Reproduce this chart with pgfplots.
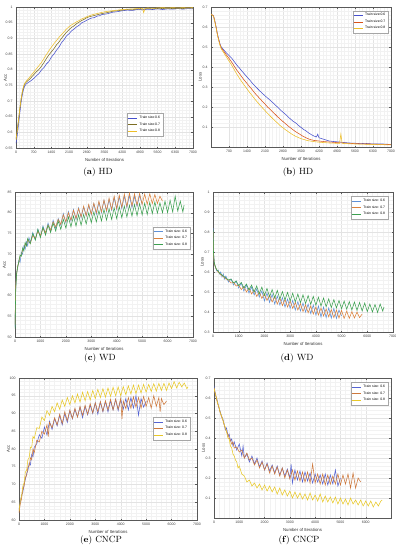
\documentclass[border=0pt]{standalone}
\usepackage{fontspec}
\usepackage{pgfplots}
\pgfplotsset{compat=1.18}
\newfontfamily\lsans{Liberation Sans}
\definecolor{hdblue}{RGB}{70,80,205}
\definecolor{hdolive}{RGB}{125,110,35}
\definecolor{hdyellow}{RGB}{237,190,40}
\definecolor{hdred}{RGB}{217,83,25}
\definecolor{wdblue}{RGB}{95,145,215}
\definecolor{wdorange}{RGB}{220,130,60}
\definecolor{wdgreen}{RGB}{60,160,80}
\definecolor{cnblue}{RGB}{85,100,210}
\definecolor{cnorange}{RGB}{205,120,60}
\definecolor{cnyellow}{RGB}{232,200,40}
\pgfplotsset{
  base/.style={
    scale only axis,
    grid=both,
    major grid style={draw=gray!22, line width=0.25pt},
    minor grid style={draw=gray!10, line width=0.2pt},
    minor tick num=4,
    tick align=inside,
    major tick length=1.5pt, minor tick length=0pt,
    tick style={gray!70!black, line width=0.25pt},
    axis line style={gray!70!black, line width=0.3pt},
    ticklabel style={font=\lsans\fontsize{3.5}{4}\selectfont, text=black!75},
    label style={font=\lsans\fontsize{4.3}{5}\selectfont, text=black!80},
    /pgf/number format/assume math mode=true,
    /pgf/number format/1000 sep={},
    scaled ticks=false,
    xlabel={Number of Iterations},
    xlabel style={yshift=2.5pt},
    ylabel style={at={(axis description cs:-0.06,0.5)}, anchor=center, font=\lsans\fontsize{4.3}{5}\selectfont, text=black!80},
    legend style={font=\lsans\fontsize{3.4}{4}\selectfont, draw=gray!70, line width=0.3pt, inner sep=0.8pt, row sep=-1.5pt, fill=white},
    legend cell align=left,
    legend image code/.code={\draw[#1, line width=0.6pt] (0pt,0pt) -- (9pt,0pt);},
    every axis plot/.append style={line width=0.55pt, mark=none},
  }
}
\begin{document}
\begin{tikzpicture}
\useasboundingbox (0,0) rectangle (396pt,-550pt);
% ---------------- (a) HD Acc
\begin{axis}[base, at={(16pt,-7pt)}, anchor=north west, width=177pt, height=141pt,
  xmin=0, xmax=7000, ymin=0.55, ymax=1,
  xtick={0,700,1400,2100,2800,3500,4200,4900,5600,6300,7000},
  ytick={0.55,0.6,0.65,0.7,0.75,0.8,0.85,0.9,0.95,1},
  ylabel={Acc},
  legend style={at={(0.83,0.085)}, anchor=south east}]
\addplot[hdblue] coordinates {(0,0.565) (50,0.59) (100,0.625) (150,0.66) (200,0.695) (250,0.72) (300,0.738) (350,0.748) (400,0.754) (500,0.76) (600,0.765) (700,0.772) (800,0.78) (900,0.787) (1000,0.798) (1100,0.806) (1200,0.818) (1300,0.826) (1400,0.84) (1500,0.85) (1600,0.862) (1700,0.872) (1800,0.886) (1900,0.896) (2000,0.908) (2100,0.915) (2200,0.924) (2300,0.93) (2400,0.937) (2500,0.942) (2600,0.95) (2700,0.953) (2800,0.958) (2900,0.962) (3000,0.965) (3100,0.966) (3200,0.971) (3300,0.972) (3400,0.976) (3600,0.978) (3800,0.983) (4000,0.985) (4200,0.988) (4400,0.99) (4600,0.989) (4800,0.992) (5000,0.991) (5200,0.993) (5400,0.992) (5600,0.994) (5800,0.992) (6000,0.994) (6200,0.993) (6400,0.995) (6600,0.993) (6800,0.995) (7000,0.994)};
\addlegendentry{Train size:0.6}
\addplot[hdolive] coordinates {(0,0.58) (50,0.61) (100,0.64) (150,0.675) (200,0.705) (250,0.728) (300,0.745) (350,0.755) (400,0.76) (500,0.767) (600,0.775) (700,0.784) (800,0.793) (900,0.8) (1000,0.81) (1100,0.822) (1200,0.835) (1300,0.847) (1400,0.857) (1500,0.867) (1600,0.879) (1700,0.888) (1800,0.9) (1900,0.91) (2000,0.92) (2100,0.928) (2200,0.935) (2300,0.94) (2400,0.947) (2500,0.952) (2600,0.957) (2700,0.961) (2800,0.966) (2900,0.969) (3000,0.971) (3200,0.975) (3400,0.979) (3600,0.982) (3800,0.986) (4000,0.988) (4200,0.99) (4400,0.992) (4600,0.991) (4800,0.994) (5000,0.993) (5200,0.995) (5400,0.994) (5600,0.996) (5800,0.995) (6000,0.996) (6200,0.995) (6400,0.996) (6600,0.995) (6800,0.997) (7000,0.996)};
\addlegendentry{Train size:0.7}
\addplot[hdyellow] coordinates {(0,0.575) (50,0.605) (100,0.64) (150,0.675) (200,0.705) (250,0.73) (300,0.748) (350,0.757) (400,0.763) (500,0.772) (600,0.782) (700,0.792) (800,0.802) (900,0.812) (1000,0.822) (1100,0.835) (1200,0.848) (1300,0.86) (1400,0.872) (1500,0.883) (1600,0.893) (1700,0.903) (1800,0.912) (1900,0.921) (2000,0.93) (2100,0.937) (2200,0.943) (2300,0.948) (2400,0.953) (2500,0.957) (2600,0.962) (2700,0.965) (2800,0.969) (2900,0.972) (3000,0.975) (3200,0.979) (3400,0.983) (3600,0.986) (3800,0.988) (4000,0.99) (4200,0.992) (4400,0.993) (4600,0.994) (4800,0.995) (5000,0.996) (5050,0.982) (5100,0.995) (5200,0.997) (5400,0.996) (5600,0.997) (5800,0.998) (6000,0.997) (6200,0.998) (6400,0.997) (6600,0.998) (6800,0.997) (7000,0.998)};
\addlegendentry{Train size:0.8}
\end{axis}
% ---------------- (b) HD Loss
\begin{axis}[base, at={(211pt,-7pt)}, anchor=north west, width=180pt, height=140pt,
  xmin=0, xmax=7000, ymin=0, ymax=0.7,
  xtick={700,1400,2100,2800,3500,4200,4900,5600,6300,7000},
  ytick={0.1,0.2,0.3,0.4,0.5,0.6,0.7},
  ylabel={Loss},
  legend style={at={(0.985,0.975)}, anchor=north east}]
\addplot[hdblue] coordinates {(0,0.665) (100,0.655) (150,0.63) (200,0.6) (250,0.565) (300,0.54) (350,0.515) (400,0.5) (500,0.485) (600,0.47) (700,0.458) (800,0.445) (900,0.428) (1000,0.41) (1100,0.396) (1200,0.38) (1300,0.365) (1400,0.35) (1500,0.336) (1600,0.32) (1700,0.306) (1800,0.293) (1900,0.28) (2000,0.268) (2100,0.256) (2200,0.245) (2300,0.234) (2400,0.222) (2500,0.21) (2600,0.198) (2700,0.185) (2800,0.174) (2900,0.163) (3000,0.15) (3100,0.139) (3200,0.128) (3300,0.12) (3400,0.108) (3500,0.098) (3600,0.088) (3700,0.08) (3800,0.07) (3900,0.062) (4000,0.055) (4100,0.05) (4150,0.064) (4200,0.046) (4300,0.042) (4400,0.038) (4500,0.034) (4600,0.03) (4800,0.027) (5000,0.025) (5200,0.022) (5400,0.02) (5600,0.019) (5800,0.017) (6000,0.018) (6200,0.016) (6400,0.015) (6600,0.016) (6800,0.014) (7000,0.013)};
\addlegendentry{Train size:0.6}
\addplot[hdred] coordinates {(0,0.665) (100,0.655) (150,0.628) (200,0.597) (250,0.562) (300,0.535) (350,0.512) (400,0.495) (500,0.478) (600,0.46) (700,0.443) (800,0.425) (900,0.405) (1000,0.385) (1100,0.368) (1200,0.35) (1300,0.333) (1400,0.318) (1500,0.302) (1600,0.287) (1700,0.27) (1800,0.256) (1900,0.242) (2000,0.228) (2100,0.215) (2200,0.2) (2300,0.188) (2400,0.175) (2500,0.163) (2600,0.15) (2700,0.138) (2800,0.127) (2900,0.116) (3000,0.105) (3100,0.095) (3200,0.085) (3300,0.076) (3400,0.068) (3500,0.06) (3600,0.052) (3700,0.046) (3800,0.04) (3900,0.036) (4000,0.033) (4200,0.03) (4400,0.027) (4600,0.025) (4800,0.023) (5000,0.021) (5200,0.02) (5400,0.018) (5600,0.017) (5800,0.016) (6000,0.015) (6200,0.015) (6400,0.014) (6600,0.013) (6800,0.013) (7000,0.012)};
\addlegendentry{Train size:0.7}
\addplot[hdyellow] coordinates {(0,0.665) (100,0.652) (150,0.625) (200,0.595) (250,0.56) (300,0.532) (350,0.508) (400,0.49) (500,0.47) (600,0.45) (700,0.43) (800,0.41) (900,0.388) (1000,0.365) (1100,0.345) (1200,0.326) (1300,0.308) (1400,0.29) (1500,0.273) (1600,0.257) (1700,0.24) (1800,0.225) (1900,0.21) (2000,0.196) (2100,0.182) (2200,0.168) (2300,0.155) (2400,0.142) (2500,0.13) (2600,0.118) (2700,0.106) (2800,0.096) (2900,0.086) (3000,0.077) (3100,0.068) (3200,0.06) (3300,0.053) (3400,0.047) (3500,0.042) (3600,0.038) (3700,0.034) (3800,0.031) (4000,0.027) (4200,0.024) (4400,0.022) (4600,0.02) (4800,0.019) (5000,0.018) (5050,0.065) (5100,0.018) (5200,0.017) (5400,0.016) (5600,0.015) (5800,0.014) (6000,0.014) (6200,0.013) (6400,0.012) (6600,0.012) (6800,0.011) (7000,0.011)};
\addlegendentry{Train size:0.8}
\end{axis}
% ---------------- (c) WD Acc
\begin{axis}[base, at={(15pt,-192pt)}, anchor=north west, width=178pt, height=145pt,
  xmin=0, xmax=7000, ymin=50, ymax=85,
  xtick={0,1000,...,7000}, ytick={50,55,...,85},
  ylabel={Acc},
  legend style={at={(0.983,0.76)}, anchor=north east}]
\addplot[wdblue] coordinates {(0,52.5) (30,62) (60,65.5) (100,66.5) (150,68.5) (200,68) (250,70.5) (300,70) (350,72) (400,71.2) (450,73) (500,72) (550,74) (600,72.8) (700,75.2) (800,73.5) (900,76) (1000,74.2) (1100,76.8) (1200,75) (1300,77.5) (1400,75.6) (1500,78.2) (1600,76.2) (1700,78.6) (1800,77) (1900,79.8) (2000,77.6) (2100,80.3) (2200,78) (2300,80.8) (2400,78.4) (2500,81.2) (2600,78.8) (2700,81.4) (2800,79.2) (2900,81.8) (3000,79.5) (3100,82.2) (3200,79.6) (3300,82.5) (3400,80) (3500,83) (3600,80.3) (3700,83.2) (3800,80.6) (3900,83.6) (4000,80.8) (4100,83.9) (4200,81) (4300,84) (4400,81.2) (4500,84.2) (4600,81.2) (4700,84) (4800,81.5) (4900,84.2) (5000,82)};
\addlegendentry{Train size: 0.6}
\addplot[wdorange] coordinates {(0,53) (30,62.5) (60,65) (100,67) (150,68) (200,69.5) (250,69.8) (300,71) (350,71.2) (400,72.5) (450,72) (500,73.5) (600,72.6) (700,74.5) (800,73.8) (900,75.5) (1000,74.5) (1100,76.2) (1200,75.2) (1300,77) (1400,75.8) (1500,77.8) (1600,76.6) (1700,78.4) (1800,77.2) (1900,79.5) (2000,77.8) (2100,80) (2200,78.2) (2300,80.6) (2400,78.6) (2500,81) (2600,79) (2700,81.6) (2800,79.3) (2900,82) (3000,79.6) (3100,82.3) (3200,80) (3300,82.8) (3400,80.2) (3500,83.1) (3600,80.5) (3700,83.5) (3800,80.8) (3900,84) (4000,81) (4100,84.2) (4200,81.3) (4300,84.5) (4400,81.5) (4500,84.8) (4600,81.6) (4700,84.6) (4800,81.8) (4900,84.7) (5000,82) (5100,84.5) (5200,82) (5300,84.6) (5400,82.2) (5500,84.4) (5600,82.2) (5700,84) (5800,82.8)};
\addlegendentry{Train size: 0.7}
\addplot[wdgreen] coordinates {(0,52) (30,61.5) (60,65) (100,66.8) (150,68.2) (200,69.8) (250,69.5) (300,71.5) (350,70.8) (400,72.8) (450,72) (500,73.8) (600,72.5) (700,75) (800,73.4) (900,76) (1000,74) (1100,76.5) (1200,74.6) (1300,77) (1400,75.2) (1500,77.5) (1600,75.6) (1700,78) (1800,76) (1900,78.4) (2000,76.3) (2100,79) (2200,76.6) (2300,79.2) (2400,76.8) (2500,79.5) (2600,77) (2700,79.6) (2800,77.3) (2900,80) (3000,77.6) (3100,80.2) (3200,77.8) (3300,80.5) (3400,78) (3500,80.8) (3600,78.2) (3700,81) (3800,78.4) (3900,81.2) (4000,78.6) (4100,81.5) (4200,78.8) (4300,81.6) (4400,79) (4500,81.8) (4600,79.2) (4700,82) (4800,79.3) (4900,82.2) (5000,79.5) (5100,82.3) (5200,79.6) (5300,82.5) (5400,79.8) (5500,82.6) (5600,79.9) (5700,82.4) (5800,80) (5900,82.8) (6000,80) (6100,83) (6200,80.2) (6300,84) (6400,80.4) (6500,82.8) (6600,80.2) (6650,81.8)};
\addlegendentry{Train size: 0.8}
\end{axis}
% ---------------- (d) WD Loss
\begin{axis}[base, at={(213pt,-192pt)}, anchor=north west, width=180pt, height=140pt,
  xmin=0, xmax=7000, ymin=0.3, ymax=1,
  xtick={0,1000,...,7000}, ytick={0.3,0.4,0.5,0.6,0.7,0.8,0.9,1},
  ylabel={Loss},
  legend style={at={(0.972,0.97)}, anchor=north east}]
\addplot[wdblue] coordinates {(0,0.82) (20,0.7) (50,0.645) (100,0.62) (150,0.605) (200,0.61) (250,0.59) (300,0.6) (350,0.575) (400,0.59) (450,0.565) (500,0.58) (600,0.55) (700,0.565) (800,0.535) (900,0.555) (1000,0.52) (1100,0.545) (1200,0.505) (1300,0.535) (1400,0.495) (1500,0.525) (1600,0.485) (1700,0.515) (1800,0.475) (1900,0.505) (2000,0.455) (2100,0.495) (2200,0.448) (2300,0.488) (2400,0.44) (2500,0.48) (2600,0.435) (2700,0.472) (2800,0.425) (2900,0.465) (3000,0.418) (3100,0.458) (3200,0.41) (3300,0.452) (3400,0.405) (3500,0.445) (3600,0.4) (3700,0.44) (3800,0.392) (3900,0.435) (4000,0.385) (4100,0.43) (4200,0.375) (4300,0.425) (4400,0.372) (4500,0.42) (4600,0.37) (4700,0.418) (4800,0.368) (4900,0.41) (5000,0.38)};
\addlegendentry{Train size: 0.6}
\addplot[wdorange] coordinates {(0,0.8) (20,0.69) (50,0.64) (100,0.622) (150,0.61) (200,0.6) (250,0.595) (300,0.585) (350,0.585) (400,0.575) (450,0.575) (500,0.565) (600,0.56) (700,0.545) (800,0.548) (900,0.53) (1000,0.535) (1100,0.512) (1200,0.528) (1300,0.5) (1400,0.52) (1500,0.49) (1600,0.51) (1700,0.478) (1800,0.5) (1900,0.468) (2000,0.492) (2100,0.458) (2200,0.485) (2300,0.45) (2400,0.478) (2500,0.44) (2600,0.47) (2700,0.432) (2800,0.462) (2900,0.425) (3000,0.455) (3100,0.418) (3200,0.448) (3300,0.41) (3400,0.442) (3500,0.402) (3600,0.436) (3700,0.396) (3800,0.43) (3900,0.39) (4000,0.425) (4100,0.385) (4200,0.42) (4300,0.38) (4400,0.415) (4500,0.376) (4600,0.412) (4700,0.372) (4800,0.41) (4900,0.37) (5000,0.408) (5100,0.368) (5200,0.405) (5300,0.368) (5400,0.402) (5500,0.37) (5600,0.4) (5700,0.372) (5800,0.39)};
\addlegendentry{Train size: 0.7}
\addplot[wdgreen] coordinates {(0,0.81) (20,0.695) (50,0.645) (100,0.625) (150,0.61) (200,0.605) (250,0.595) (300,0.59) (350,0.585) (400,0.58) (450,0.575) (500,0.57) (600,0.56) (700,0.565) (800,0.545) (900,0.555) (1000,0.532) (1100,0.548) (1200,0.52) (1300,0.54) (1400,0.51) (1500,0.535) (1600,0.5) (1700,0.53) (1800,0.49) (1900,0.525) (2000,0.482) (2100,0.518) (2200,0.476) (2300,0.512) (2400,0.47) (2500,0.508) (2600,0.465) (2700,0.502) (2800,0.46) (2900,0.498) (3000,0.455) (3100,0.494) (3200,0.45) (3300,0.49) (3400,0.446) (3500,0.486) (3600,0.442) (3700,0.482) (3800,0.438) (3900,0.478) (4000,0.434) (4100,0.474) (4200,0.43) (4300,0.47) (4400,0.426) (4500,0.466) (4600,0.422) (4700,0.462) (4800,0.42) (4900,0.458) (5000,0.416) (5100,0.455) (5200,0.414) (5300,0.452) (5400,0.41) (5500,0.45) (5600,0.408) (5700,0.448) (5800,0.405) (5900,0.445) (6000,0.402) (6100,0.44) (6200,0.4) (6300,0.438) (6400,0.398) (6500,0.44) (6600,0.405) (6650,0.425)};
\addlegendentry{Train size: 0.8}
\end{axis}
% ---------------- (e) CNCP Acc
\begin{axis}[base, at={(19pt,-378pt)}, anchor=north west, width=178pt, height=142pt,
  xmin=0, xmax=7000, ymin=60, ymax=100,
  xtick={0,1000,...,7000}, ytick={60,65,...,100},
  ylabel={Acc},
  legend style={at={(0.96,0.725)}, anchor=north east}]
\addplot[cnblue] coordinates {(0,63) (50,65) (100,67) (150,67.8) (200,70) (250,71.5) (300,73) (350,74) (400,76) (450,75.5) (500,78.5) (550,77.8) (600,80.5) (700,81.5) (800,84) (900,83) (1000,86.2) (1100,84) (1200,87.8) (1300,85.5) (1400,88.6) (1500,86.5) (1600,89.5) (1700,86.8) (1800,90) (1900,87.5) (2000,90.8) (2100,88.5) (2200,91.2) (2300,89) (2400,91.8) (2500,88.8) (2600,92) (2700,89.6) (2800,92.4) (2900,90) (3000,93) (3100,89.8) (3200,93.2) (3300,90.5) (3400,93.4) (3500,90.4) (3600,93.6) (3700,91) (3800,94) (3900,90.8) (4000,94) (4100,91.2) (4200,94.2) (4300,91) (4400,94.5) (4500,91.5) (4600,95) (4700,89.5) (4800,94.2) (4900,91.8) (5000,93.5)};
\addlegendentry{Train size: 0.6}
\addplot[cnorange] coordinates {(0,62) (50,64.5) (100,66) (150,68.5) (200,69.5) (250,72) (300,72.5) (350,75) (400,75.2) (450,77.5) (500,77) (550,80) (600,79) (700,82.5) (800,82) (900,85) (1000,84.2) (1100,86.8) (1150,83.5) (1200,87.5) (1300,86) (1400,88.8) (1500,86.8) (1600,89.8) (1700,87.2) (1800,90.5) (1900,88) (2000,91) (2100,88.6) (2200,91.5) (2300,89) (2400,92) (2500,89.5) (2600,92.3) (2700,89.8) (2800,92.8) (2900,90.2) (3000,93) (3100,90.5) (3200,93.4) (3300,90.6) (3400,93.6) (3500,91) (3600,94) (3700,91) (3800,94) (3900,91.2) (4000,94.3) (4050,88.5) (4100,93.5) (4200,91.4) (4300,94.5) (4400,91.5) (4500,94.7) (4600,91.8) (4700,94.5) (4800,91.5) (4900,94.8) (5000,92) (5100,94.5) (5200,91.5) (5300,95) (5400,92) (5500,94.5) (5550,90.5) (5600,94.2) (5700,92.5) (5800,93.5)};
\addlegendentry{Train size: 0.7}
\addplot[cnyellow] coordinates {(0,62.5) (50,65.5) (100,66.8) (150,69.5) (200,70.5) (250,73.5) (300,74) (350,77) (400,77.5) (450,80.5) (500,80.5) (550,83.5) (600,83) (700,86) (800,85.8) (900,89) (1000,88) (1100,90.8) (1200,89.5) (1300,92) (1400,90.5) (1500,93) (1600,91.2) (1700,93.8) (1800,92) (1900,94.5) (2000,92.5) (2100,95) (2200,93) (2300,95.5) (2400,93.2) (2500,96) (2600,93.6) (2700,96.2) (2800,93.8) (2900,96.5) (3000,94.2) (3100,96.8) (3200,94.5) (3300,97) (3400,94.6) (3500,97.2) (3600,94.8) (3700,97.4) (3800,95) (3900,97.5) (4000,95) (4100,97.6) (4200,95.3) (4300,97.8) (4400,95.5) (4500,98) (4600,95.6) (4700,98) (4800,95.8) (4900,98.2) (5000,96) (5100,98.2) (5200,96.2) (5300,98.4) (5400,96.3) (5500,98.5) (5600,96.5) (5700,98.5) (5800,96.5) (5900,98.6) (6000,97) (6100,99) (6200,97.2) (6300,98.8) (6400,97.5) (6500,98.6) (6600,97) (6650,97.5)};
\addlegendentry{Train size: 0.8}
\end{axis}
% ---------------- (f) CNCP Loss
\begin{axis}[base, at={(214pt,-378pt)}, anchor=north west, width=177pt, height=140pt,
  xmin=0, xmax=7000, ymin=0, ymax=0.7,
  xtick={0,1000,...,6000}, ytick={0.1,0.2,0.3,0.4,0.5,0.6,0.7},
  ylabel={Loss},
  legend style={at={(0.983,0.97)}, anchor=north east}]
\addplot[cnblue] coordinates {(0,0.66) (50,0.62) (100,0.6) (150,0.575) (200,0.55) (250,0.53) (300,0.51) (350,0.495) (400,0.47) (450,0.44) (500,0.45) (550,0.41) (600,0.42) (650,0.385) (700,0.395) (750,0.36) (800,0.38) (900,0.34) (1000,0.37) (1100,0.31) (1150,0.36) (1200,0.3) (1300,0.32) (1400,0.28) (1500,0.31) (1600,0.27) (1700,0.3) (1800,0.255) (1900,0.285) (2000,0.24) (2100,0.275) (2200,0.235) (2300,0.265) (2400,0.225) (2500,0.26) (2600,0.215) (2700,0.25) (2800,0.21) (2900,0.245) (3000,0.2) (3050,0.27) (3100,0.175) (3200,0.24) (3300,0.19) (3400,0.235) (3500,0.18) (3600,0.23) (3700,0.185) (3800,0.225) (3900,0.175) (4000,0.22) (4100,0.18) (4200,0.215) (4300,0.17) (4400,0.22) (4500,0.165) (4600,0.215) (4700,0.17) (4800,0.24) (4900,0.16) (5000,0.2)};
\addlegendentry{Train size: 0.6}
\addplot[cnorange] coordinates {(0,0.65) (50,0.625) (100,0.595) (150,0.57) (200,0.548) (250,0.525) (300,0.505) (350,0.49) (400,0.465) (450,0.45) (500,0.43) (550,0.42) (600,0.4) (650,0.39) (700,0.37) (750,0.38) (800,0.35) (900,0.355) (1000,0.33) (1100,0.34) (1200,0.3) (1300,0.325) (1400,0.29) (1500,0.3) (1600,0.265) (1700,0.29) (1800,0.25) (1900,0.28) (2000,0.24) (2100,0.27) (2200,0.225) (2300,0.26) (2400,0.22) (2500,0.255) (2600,0.21) (2700,0.25) (2800,0.2) (2900,0.24) (3000,0.195) (3100,0.24) (3200,0.19) (3300,0.235) (3400,0.185) (3500,0.23) (3600,0.18) (3700,0.23) (3800,0.175) (3900,0.27) (4000,0.175) (4100,0.22) (4200,0.17) (4300,0.22) (4400,0.165) (4500,0.215) (4600,0.17) (4700,0.21) (4800,0.17) (4900,0.22) (5000,0.165) (5100,0.215) (5200,0.17) (5300,0.22) (5400,0.15) (5500,0.225) (5600,0.15) (5700,0.2) (5800,0.18)};
\addlegendentry{Train size: 0.7}
\addplot[cnyellow] coordinates {(0,0.65) (50,0.62) (100,0.6) (150,0.57) (200,0.555) (250,0.525) (300,0.51) (350,0.49) (400,0.47) (450,0.45) (500,0.43) (550,0.4) (600,0.395) (650,0.36) (700,0.35) (750,0.32) (800,0.31) (850,0.29) (900,0.28) (950,0.25) (1000,0.26) (1100,0.22) (1200,0.21) (1300,0.18) (1400,0.19) (1500,0.16) (1600,0.175) (1700,0.15) (1800,0.17) (1900,0.14) (2000,0.165) (2100,0.135) (2200,0.16) (2300,0.13) (2400,0.155) (2500,0.12) (2600,0.15) (2700,0.115) (2800,0.14) (2900,0.11) (3000,0.135) (3100,0.1) (3200,0.13) (3300,0.1) (3400,0.125) (3500,0.095) (3600,0.12) (3700,0.09) (3800,0.125) (3900,0.09) (4000,0.115) (4100,0.085) (4200,0.12) (4300,0.08) (4400,0.11) (4500,0.08) (4600,0.105) (4700,0.075) (4800,0.105) (4900,0.07) (5000,0.1) (5100,0.07) (5200,0.095) (5300,0.065) (5400,0.1) (5500,0.07) (5600,0.09) (5700,0.065) (5800,0.09) (5900,0.06) (6000,0.085) (6100,0.06) (6200,0.085) (6300,0.055) (6400,0.08) (6500,0.06) (6600,0.085) (6650,0.09)};
\addlegendentry{Train size: 0.8}
\end{axis}
% ---------------- captions
\node[font=\fontsize{9}{10}\selectfont] at (98pt,-172pt) {(\textbf{a}) HD};
\node[font=\fontsize{9}{10}\selectfont] at (298pt,-172pt) {(\textbf{b}) HD};
\node[font=\fontsize{9}{10}\selectfont] at (100pt,-358pt) {(\textbf{c}) WD};
\node[font=\fontsize{9}{10}\selectfont] at (297pt,-358pt) {(\textbf{d}) WD};
\node[font=\fontsize{9}{10}\selectfont] at (101pt,-540pt) {(\textbf{e}) CNCP};
\node[font=\fontsize{9}{10}\selectfont] at (299pt,-540pt) {(\textbf{f}) CNCP};
\end{tikzpicture}
\end{document}
